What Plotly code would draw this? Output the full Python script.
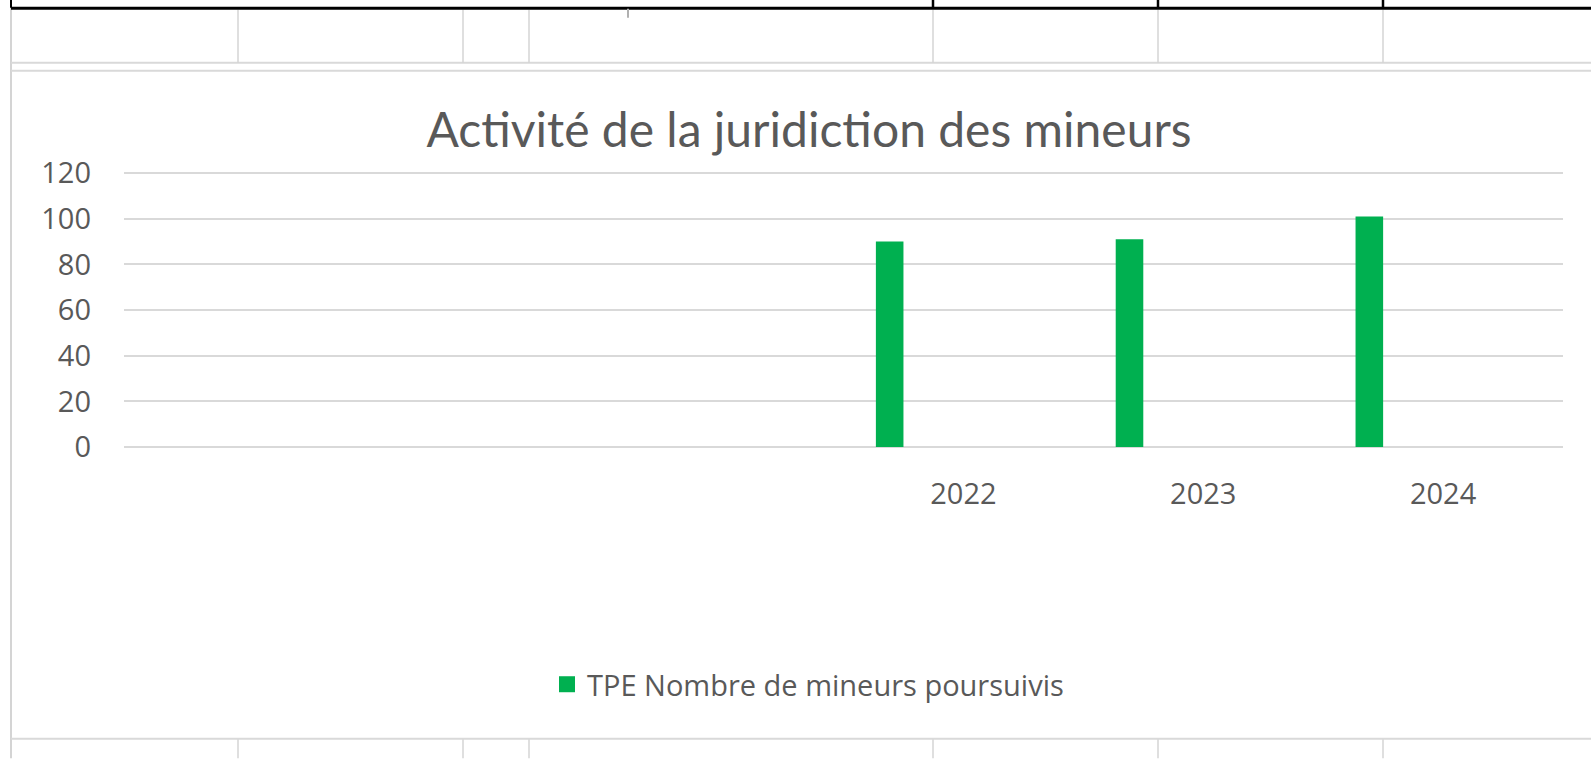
import plotly.graph_objects as go

# ---- data ----
categories = ["", "", "", "2022", "2023", "2024"]
values = [None, None, None, 90, 91, 101]
series_name = "TPE Nombre de mineurs poursuivis"
title_text = "Activité de la juridiction des mineurs"
y_ticks = [0, 20, 40, 60, 80, 100, 120]

W, H = 1591, 759
YMAX = 120.5
PL, PR, PB = 124, 1563, 447.5          # plot area in pixels
PT120 = 173.5                           # pixel row of the 120 gridline
PT = PB - (PB - PT120) * YMAX / 120.0   # top of plot area


def px(x):
    return (x - PL) / (PR - PL)


def py(y):
    return (PB - y) / (PB - PT)


positions = list(range(len(categories)))
GREEN = "#00b050"

fig = go.Figure()
fig.add_trace(go.Bar(
    x=positions, y=values, name=series_name, showlegend=False,
    marker=dict(color=GREEN, line=dict(width=0)),
    width=0.115, offset=-0.365,
))
# legend entry (square swatch like Excel)
fig.add_trace(go.Scatter(
    x=[None], y=[None], mode="markers", name=series_name,
    marker=dict(symbol="square", size=16, color=GREEN),
))

shapes = []


def seg(x0, y0, x1, y1, color, width):
    shapes.append(dict(type="line", xref="paper", yref="paper",
                       x0=px(x0), y0=py(y0), x1=px(x1), y1=py(y1),
                       line=dict(color=color, width=width), layer="above"))


GRAY = "#d4d4d4"
# spreadsheet cell lines
seg(11, 0, 11, H, GRAY, 2)
seg(11, 63, W, 63, "#d9d9d9", 2)
seg(11, 71, W, 71, "#d9d9d9", 2)
seg(11, 739.5, W, 739.5, "#d9d9d9", 2)
for xv in [238, 463, 529, 933, 1158, 1383]:
    seg(xv, 10, xv, 63, GRAY, 1.5)
    seg(xv, 740, xv, H, GRAY, 1.5)
# thick black border at top
seg(11, 8.5, W, 8.5, "#000000", 3)
seg(11, 0, 11, 8, "#000000", 2)
for xv in [933, 1158, 1383]:
    seg(xv, 0, xv, 8, "#000000", 2.5)
seg(628, 9, 628, 18, "#b0b0b0", 2)

fig.update_layout(
    width=W, height=H,
    margin=dict(l=PL, r=W - PR, t=PT, b=H - PB, pad=0),
    paper_bgcolor="white", plot_bgcolor="white",
    title=dict(text=title_text, x=809 / W, xanchor="center",
               y=1 - 130 / H, yanchor="middle", yref="container",
               font=dict(family="Liberation Sans Narrow, Lato, sans-serif", size=48, color="#595959")),
    xaxis=dict(range=[-0.5, 5.5], tickvals=positions, ticktext=categories,
               showgrid=False, showline=False, zeroline=False, ticks="",
               ticklabelstandoff=27,
               tickfont=dict(family="Open Sans, sans-serif", size=29, color="#595959")),
    yaxis=dict(range=[0, YMAX], tickvals=y_ticks, showgrid=True, gridcolor="#d9d9d9",
               gridwidth=2, zeroline=True, zerolinecolor="#d9d9d9", zerolinewidth=2,
               showline=False, ticks="", ticklabelstandoff=32,
               tickfont=dict(family="Open Sans, sans-serif", size=29, color="#595959")),
    showlegend=True,
    legend=dict(orientation="h", x=px(808), xanchor="center", y=py(685), yanchor="middle",
                font=dict(family="Open Sans, sans-serif", size=29, color="#595959"),
                bgcolor="rgba(0,0,0,0)"),
    shapes=shapes,
)

fig.write_html("out.html", config={"displayModeBar": False},
               post_script="document.body.style.margin='0px';")
